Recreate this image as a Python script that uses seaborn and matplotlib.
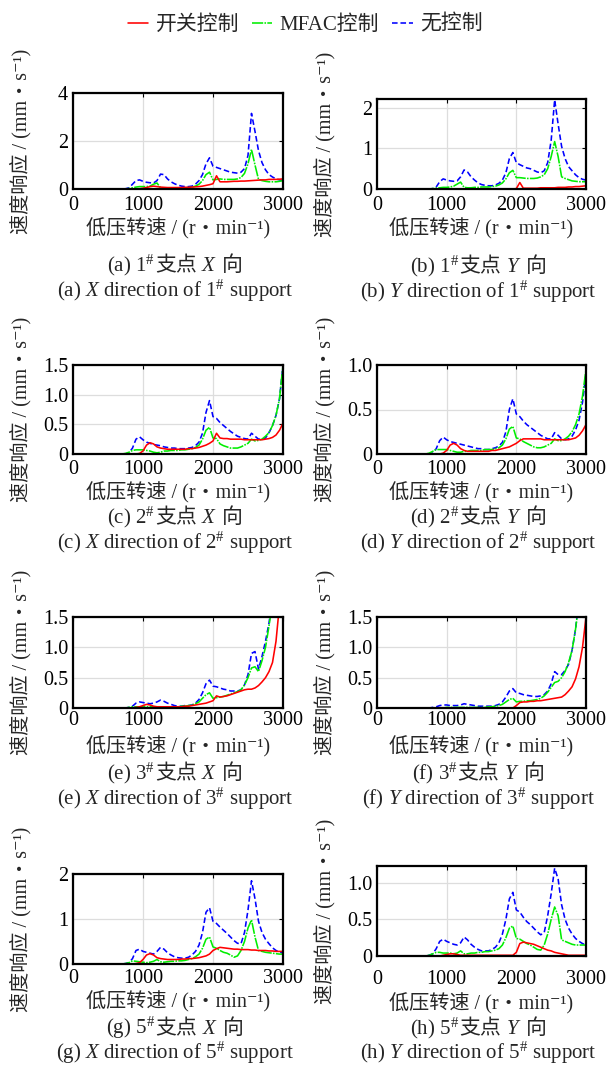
import matplotlib
matplotlib.use('Agg')
import matplotlib.pyplot as plt
from matplotlib.lines import Line2D
from matplotlib.offsetbox import TextArea, HPacker, AnnotationBbox
import seaborn as sns
import pandas as pd

# 低压转速 (r/min), 公共网格
rpm = [0, 700, 750, 800, 850, 900, 950,
       1000, 1050, 1100, 1150, 1200, 1250, 1300, 1350, 1400, 1450,
       1500, 1550, 1600, 1650, 1700, 1750, 1800, 1850, 1900, 1950,
       2000, 2050, 2100, 2150, 2200, 2250, 2300, 2350, 2400, 2450,
       2500, 2550, 2600, 2650, 2700, 2750, 2800, 2850, 2900, 2950,
       3000]

# (a) 1#支点 X 向
a_kaiguan = [0, 0, 0, 0, 0, 0, 0.01,
             0.03, 0.06, 0.1, 0.12, 0.1, 0.08, 0.07, 0.06, 0.06, 0.06,
             0.06, 0.06, 0.07, 0.07, 0.08, 0.09, 0.1, 0.12, 0.15, 0.18,
             0.22, 0.55, 0.3, 0.3, 0.3, 0.31, 0.32, 0.32, 0.33, 0.33,
             0.34, 0.35, 0.36, 0.37, 0.38, 0.38, 0.4, 0.4, 0.4, 0.41,
             0.42]
a_mfac = [0, 0, 0, 0.02, 0.05, 0.08, 0.1,
          0.1, 0.1, 0.12, 0.2, 0.25, 0.05, 0.03, 0.03, 0.04, 0.04,
          0.05, 0.05, 0.05, 0.06, 0.08, 0.12, 0.2, 0.35, 0.6, 0.7,
          0.38, 0.4, 0.42, 0.4, 0.4, 0.4, 0.4, 0.42, 0.48, 0.65,
          1.05, 1.65, 1.0, 0.4, 0.35, 0.32, 0.3, 0.3, 0.3, 0.32,
          0.35]
a_wu = [0, 0, 0.01, 0.05, 0.2, 0.35, 0.38,
        0.32, 0.28, 0.26, 0.25, 0.35, 0.62, 0.6, 0.42, 0.3, 0.22,
        0.16, 0.12, 0.1, 0.1, 0.12, 0.2, 0.35, 0.6, 1.05, 1.3,
        0.95, 0.9, 0.85, 0.8, 0.75, 0.7, 0.68, 0.66, 0.7, 0.85,
        1.4, 3.15, 2.4, 1.6, 1.1, 0.8, 0.6, 0.5, 0.42, 0.38,
        0.35]

# (b) 1#支点 Y 向
b_kaiguan = [0, 0, 0, 0, 0, 0, 0,
             0, 0, 0, 0, 0, 0, 0, 0, 0, 0,
             0, 0, 0, 0, 0, 0, 0, 0, 0, 0,
             0.01, 0.16, 0.02, 0.02, 0.02, 0.02, 0.02, 0.03, 0.03, 0.03,
             0.03, 0.03, 0.04, 0.04, 0.04, 0.05, 0.05, 0.06, 0.06, 0.07,
             0.08]
b_mfac = [0, 0, 0, 0.01, 0.02, 0.03, 0.04,
          0.04, 0.05, 0.07, 0.12, 0.17, 0.04, 0.03, 0.03, 0.04, 0.04,
          0.05, 0.05, 0.05, 0.06, 0.07, 0.1, 0.15, 0.25, 0.4, 0.46,
          0.28, 0.28, 0.27, 0.26, 0.26, 0.26, 0.27, 0.3, 0.35, 0.5,
          0.8, 1.17, 0.8, 0.3, 0.26, 0.23, 0.2, 0.19, 0.18, 0.18,
          0.18]
b_wu = [0, 0, 0, 0.01, 0.05, 0.18, 0.25,
        0.22, 0.2, 0.19, 0.2, 0.3, 0.47, 0.42, 0.3, 0.22, 0.15,
        0.11, 0.09, 0.08, 0.08, 0.1, 0.14, 0.22, 0.4, 0.75, 0.9,
        0.65, 0.6, 0.56, 0.52, 0.5, 0.46, 0.42, 0.4, 0.45, 0.65,
        1.2, 2.2, 1.6, 1.05, 0.75, 0.55, 0.45, 0.35, 0.28, 0.24,
        0.22]

# (c) 2#支点 X 向
c_kaiguan = [0, 0, 0, 0, 0, 0, 0.01,
             0.05, 0.15, 0.19, 0.17, 0.12, 0.1, 0.09, 0.08, 0.08, 0.08,
             0.08, 0.08, 0.08, 0.09, 0.09, 0.1, 0.11, 0.13, 0.15, 0.18,
             0.22, 0.35, 0.27, 0.26, 0.26, 0.25, 0.25, 0.25, 0.25, 0.24,
             0.24, 0.24, 0.24, 0.24, 0.24, 0.25, 0.26, 0.28, 0.32, 0.4,
             0.52]
c_mfac = [0, 0, 0.01, 0.03, 0.06, 0.07, 0.07,
          0.07, 0.06, 0.05, 0.03, 0.02, 0.03, 0.05, 0.05, 0.06, 0.06,
          0.06, 0.07, 0.07, 0.08, 0.09, 0.11, 0.15, 0.25, 0.4, 0.45,
          0.27, 0.26, 0.17, 0.14, 0.12, 0.1, 0.1, 0.1, 0.12, 0.15,
          0.18, 0.25, 0.22, 0.23, 0.25, 0.3, 0.36, 0.48, 0.65, 0.93,
          1.5]
c_wu = [0, 0, 0, 0.02, 0.1, 0.25, 0.29,
        0.24, 0.2, 0.18, 0.16, 0.15, 0.14, 0.12, 0.11, 0.1, 0.1,
        0.09, 0.09, 0.09, 0.1, 0.11, 0.14, 0.2, 0.35, 0.7, 0.9,
        0.63, 0.6, 0.53, 0.48, 0.43, 0.38, 0.34, 0.3, 0.28, 0.26,
        0.25, 0.35, 0.3, 0.25, 0.25, 0.27, 0.36, 0.48, 0.65, 0.93,
        1.5]

# (d) 2#支点 Y 向
d_kaiguan = [0, 0, 0, 0, 0, 0, 0.01,
             0.04, 0.1, 0.12, 0.1, 0.06, 0.04, 0.03, 0.03, 0.03, 0.03,
             0.03, 0.03, 0.03, 0.04, 0.04, 0.05, 0.06, 0.07, 0.08, 0.1,
             0.12, 0.15, 0.17, 0.17, 0.17, 0.17, 0.17, 0.17, 0.16, 0.16,
             0.16, 0.16, 0.16, 0.16, 0.16, 0.16, 0.17, 0.18, 0.21, 0.26,
             0.33]
d_mfac = [0, 0, 0.01, 0.03, 0.05, 0.05, 0.05,
          0.05, 0.04, 0.03, 0.02, 0.02, 0.03, 0.03, 0.04, 0.04, 0.04,
          0.04, 0.05, 0.05, 0.05, 0.06, 0.07, 0.1, 0.17, 0.28, 0.31,
          0.18, 0.17, 0.14, 0.12, 0.1, 0.08, 0.07, 0.07, 0.08, 0.1,
          0.12, 0.17, 0.15, 0.15, 0.17, 0.2, 0.25, 0.33, 0.45, 0.65,
          0.95]
d_wu = [0, 0, 0, 0.01, 0.06, 0.15, 0.19,
        0.16, 0.14, 0.13, 0.12, 0.11, 0.1, 0.09, 0.08, 0.07, 0.06,
        0.06, 0.05, 0.05, 0.06, 0.07, 0.09, 0.13, 0.25, 0.5, 0.62,
        0.45, 0.42, 0.37, 0.33, 0.3, 0.27, 0.24, 0.21, 0.19, 0.17,
        0.17, 0.24, 0.21, 0.17, 0.16, 0.17, 0.2, 0.27, 0.38, 0.58,
        0.9]

# (e) 3#支点 X 向
e_kaiguan = [0, 0, 0, 0, 0, 0.01, 0.02,
             0.04, 0.06, 0.05, 0.03, 0.02, 0.02, 0.02, 0.02, 0.02, 0.02,
             0.02, 0.02, 0.03, 0.03, 0.04, 0.05, 0.06, 0.07, 0.08, 0.1,
             0.12, 0.2, 0.18, 0.19, 0.2, 0.22, 0.24, 0.26, 0.28, 0.3,
             0.31, 0.31, 0.33, 0.37, 0.43, 0.5, 0.6, 0.75, 1.1, 1.7,
             2.5]
e_mfac = [0, 0, 0, 0.01, 0.02, 0.02, 0.02,
          0.02, 0.02, 0.02, 0.02, 0.02, 0.02, 0.02, 0.02, 0.02, 0.02,
          0.02, 0.03, 0.03, 0.04, 0.05, 0.07, 0.1, 0.16, 0.22, 0.25,
          0.16, 0.17, 0.18, 0.19, 0.21, 0.23, 0.25, 0.27, 0.3, 0.38,
          0.5, 0.66, 0.68, 0.6, 0.78, 1.0, 1.35, 1.75, 2.3, 3.0,
          4.0]
e_wu = [0, 0, 0, 0.01, 0.03, 0.08, 0.1,
        0.09, 0.08, 0.07, 0.08, 0.1, 0.13, 0.11, 0.08, 0.06, 0.04,
        0.03, 0.03, 0.04, 0.04, 0.05, 0.08, 0.14, 0.25, 0.4, 0.46,
        0.36, 0.35, 0.33, 0.31, 0.3, 0.28, 0.28, 0.28, 0.3, 0.38,
        0.55, 0.9, 0.93, 0.64, 0.85, 1.1, 1.4, 1.8, 2.4, 3.2,
        4.2]

# (f) 3#支点 Y 向
f_kaiguan = [0, 0, 0, 0, 0, 0, 0,
             0, 0, 0, 0, 0, 0, 0, 0, 0, 0,
             0, 0, 0, 0, 0, 0, 0, 0, 0, 0,
             0.04, 0.09, 0.1, 0.1, 0.11, 0.11, 0.12, 0.12, 0.13, 0.14,
             0.15, 0.16, 0.17, 0.18, 0.22, 0.28, 0.35, 0.48, 0.68, 1.0,
             1.5]
f_mfac = [0, 0, 0, 0, 0, 0, 0,
          0.01, 0.01, 0.01, 0.01, 0.01, 0.01, 0.01, 0.01, 0.01, 0.01,
          0.01, 0.01, 0.02, 0.02, 0.03, 0.04, 0.06, 0.1, 0.14, 0.16,
          0.1, 0.11, 0.11, 0.12, 0.12, 0.13, 0.14, 0.16, 0.2, 0.26,
          0.34, 0.42, 0.44, 0.5, 0.6, 0.75, 0.95, 1.3, 1.75, 2.4,
          3.2]
f_wu = [0, 0, 0, 0.01, 0.02, 0.04, 0.05,
        0.05, 0.04, 0.04, 0.04, 0.05, 0.07, 0.06, 0.05, 0.04, 0.03,
        0.03, 0.03, 0.03, 0.03, 0.04, 0.06, 0.1, 0.18, 0.28, 0.32,
        0.25, 0.24, 0.22, 0.21, 0.2, 0.19, 0.19, 0.2, 0.22, 0.28,
        0.4, 0.6, 0.55, 0.55, 0.62, 0.72, 0.95, 1.3, 1.8, 2.5,
        3.5]

# (g) 5#支点 X 向
g_kaiguan = [0, 0, 0, 0, 0, 0.01, 0.03,
             0.1, 0.2, 0.23, 0.2, 0.14, 0.12, 0.11, 0.1, 0.1, 0.1,
             0.1, 0.11, 0.11, 0.12, 0.12, 0.13, 0.14, 0.16, 0.18, 0.22,
             0.3, 0.34, 0.37, 0.36, 0.35, 0.34, 0.33, 0.33, 0.32, 0.32,
             0.32, 0.31, 0.31, 0.3, 0.3, 0.3, 0.29, 0.29, 0.28, 0.28,
             0.28]
g_mfac = [0, 0, 0.01, 0.03, 0.07, 0.06, 0.05,
          0.04, 0.03, 0.04, 0.06, 0.1, 0.05, 0.04, 0.05, 0.06, 0.06,
          0.07, 0.07, 0.08, 0.1, 0.12, 0.16, 0.22, 0.35, 0.55, 0.6,
          0.38, 0.35, 0.3, 0.26, 0.24, 0.2, 0.15, 0.18, 0.3, 0.5,
          0.8, 0.98, 0.6, 0.3, 0.28, 0.26, 0.25, 0.24, 0.23, 0.22,
          0.22]
g_wu = [0, 0, 0.01, 0.03, 0.12, 0.3, 0.33,
        0.28, 0.26, 0.24, 0.22, 0.28, 0.37, 0.33, 0.25, 0.2, 0.16,
        0.14, 0.13, 0.13, 0.15, 0.2, 0.28, 0.42, 0.7, 1.15, 1.25,
        0.95, 0.9, 0.82, 0.75, 0.68, 0.6, 0.52, 0.46, 0.45, 0.7,
        1.2, 1.85, 1.45, 0.95, 0.7, 0.55, 0.45, 0.36, 0.3, 0.27,
        0.24]

# (h) 5#支点 Y 向
h_kaiguan = [0, 0, 0, 0, 0, 0, 0.01,
             0.02, 0.03, 0.03, 0.02, 0.01, 0.01, 0.01, 0.01, 0.01, 0.01,
             0.01, 0.01, 0.01, 0.01, 0.01, 0.01, 0.01, 0.01, 0.01, 0.01,
             0.05, 0.17, 0.19, 0.18, 0.17, 0.16, 0.14, 0.12, 0.1, 0.08,
             0.07, 0.05, 0.04, 0.03, 0.02, 0.01, 0.01, 0.01, 0.01, 0.01,
             0.01]
h_mfac = [0, 0, 0.01, 0.03, 0.05, 0.05, 0.04,
          0.04, 0.04, 0.03, 0.04, 0.07, 0.03, 0.03, 0.04, 0.04, 0.05,
          0.05, 0.06, 0.06, 0.07, 0.08, 0.1, 0.15, 0.25, 0.38, 0.41,
          0.24, 0.23, 0.2, 0.17, 0.15, 0.12, 0.09, 0.08, 0.15, 0.3,
          0.5, 0.67, 0.55, 0.22, 0.2, 0.18, 0.16, 0.15, 0.15, 0.15,
          0.15]
h_wu = [0, 0, 0.01, 0.03, 0.1, 0.2, 0.23,
        0.2, 0.18, 0.16, 0.15, 0.18, 0.26, 0.22, 0.16, 0.12, 0.09,
        0.07, 0.07, 0.07, 0.09, 0.12, 0.18, 0.3, 0.5, 0.78, 0.87,
        0.63, 0.6, 0.53, 0.47, 0.43, 0.38, 0.33, 0.29, 0.32, 0.55,
        0.85, 1.2, 1.05, 0.7, 0.5, 0.38, 0.3, 0.24, 0.2, 0.17,
        0.15]

series_names = ['开关控制', 'MFAC控制', '无控制']
xlabel = '低压转速 / (r・min⁻¹)'
ylabel = '速度响应 / (mm・s⁻¹)'

# 字体
sns.set_style('white')
plt.rcParams['font.family'] = ['Liberation Serif', 'DejaVu Serif', 'Noto Sans CJK SC']
plt.rcParams['mathtext.fontset'] = 'custom'
plt.rcParams['mathtext.rm'] = 'Liberation Serif'
plt.rcParams['mathtext.it'] = 'Liberation Serif:italic'
plt.rcParams['axes.unicode_minus'] = False

colors = {'开关控制': '#ff0000', 'MFAC控制': '#00ee00', '无控制': '#0000ff'}
dashes = {'开关控制': '', 'MFAC控制': (7, 0.8, 1, 0.8), '无控制': (3.5, 1.8)}
order = ['无控制', 'MFAC控制', '开关控制']  # 画图顺序
LW = 1.15

W, H = 609, 1067
fig = plt.figure(figsize=(W / 100, H / 100), dpi=100)

# tag, 支点, 方向, 数据, y刻度, y上限, 轴框(左,上,右,下 像素), x刻度pad, xlabel y, 标题 y1, y2
panels = [
    ('a', '1', 'X', (a_kaiguan, a_mfac, a_wu), [0, 2, 4], ['0', '2', '4'], 4.0,
     (73, 93, 283, 189), 5, 229, 265, 291),
    ('b', '1', 'Y', (b_kaiguan, b_mfac, b_wu), [0, 1, 2], ['0', '1', '2'], 2.22,
     (377, 99, 586, 189), 5, 229, 266, 292),
    ('c', '2', 'X', (c_kaiguan, c_mfac, c_wu), [0, 0.5, 1.0, 1.5], ['0', '0.5', '1.0', '1.5'], 1.5,
     (73, 365, 283, 454), 4.5, 493, 517, 543),
    ('d', '2', 'Y', (d_kaiguan, d_mfac, d_wu), [0, 0.5, 1.0], ['0', '0.5', '1.0'], 1.0,
     (377, 365, 586, 454), 4.5, 493, 517, 543),
    ('e', '3', 'X', (e_kaiguan, e_mfac, e_wu), [0, 0.5, 1.0, 1.5], ['0', '0.5', '1.0', '1.5'], 1.5,
     (73, 617, 283, 708), 2, 747, 773, 799),
    ('f', '3', 'Y', (f_kaiguan, f_mfac, f_wu), [0, 0.5, 1.0, 1.5], ['0', '0.5', '1.0', '1.5'], 1.5,
     (377, 617, 586, 708), 2.5, 747, 773, 799),
    ('g', '5', 'X', (g_kaiguan, g_mfac, g_wu), [0, 1, 2], ['0', '1', '2'], 2.0,
     (73, 874, 283, 964), 3.5, 1002, 1028, 1053),
    ('h', '5', 'Y', (h_kaiguan, h_mfac, h_wu), [0, 0.5, 1.0], ['0', '0.5', '1.0'], 1.23,
     (377, 866, 586, 956), 10, 1004, 1028, 1053),
]

FS = 14.5

for tag, num, d, vals, yt, ytl, ytop, box, xpad, xl_y, c1_y, c2_y in panels:
    L, T, R, B = box
    ax = fig.add_axes([L / W, 1 - B / H, (R - L) / W, (B - T) / H])
    df = pd.DataFrame({
        'rpm': rpm * 3,
        'v': list(vals[0]) + list(vals[1]) + list(vals[2]),
        'ctrl': [n for n in series_names for _ in rpm],
    })
    sns.lineplot(data=df, x='rpm', y='v', hue='ctrl', style='ctrl',
                 hue_order=order, style_order=order, palette=colors, dashes=dashes,
                 estimator=None, sort=False, legend=False, linewidth=LW, ax=ax)
    ax.set_xlim(0, 3000)
    ax.set_ylim(0, ytop)
    ax.set_xticks([0, 1000, 2000, 3000])
    ax.set_xticklabels(['0', '1000', '2000', '3000'])
    ax.set_yticks(yt)
    ax.set_yticklabels(ytl)
    ax.set_xlabel('')
    ax.set_ylabel('')
    ax.grid(True, color='#dddddd', linewidth=0.9)
    ax.set_axisbelow(True)
    for s in ax.spines.values():
        s.set_color('black')
        s.set_linewidth(1.6)
    ax.tick_params(direction='in', length=3, width=0.8, top=True, right=True,
                   labelsize=FS, colors='black')
    ax.tick_params(axis='x', pad=xpad)
    ax.tick_params(axis='y', pad=3.5)

    cx = (L + R) / 2
    cy = (T + B) / 2
    # 坐标轴标题
    fig.text(cx / W, 1 - xl_y / H, xlabel, ha='center', va='center', fontsize=FS)
    ylx = 21 if L < 300 else 325
    fig.text(ylx / W, 1 - cy / H, ylabel, ha='center', va='center', rotation=90, fontsize=FS)

    # 中文子图标题
    t1 = TextArea(f'({tag}) {num}$^{{\\#}}$', textprops=dict(fontsize=15))
    t2 = TextArea('支点', textprops=dict(fontsize=15))
    t3 = TextArea(f'${d}$', textprops=dict(fontsize=15))
    t4 = TextArea('向', textprops=dict(fontsize=15))
    inner = HPacker(children=[t1, t2], sep=0, pad=0, align='baseline')
    packed = HPacker(children=[inner, t3, t4], sep=3.5, pad=0, align='baseline')
    ab = AnnotationBbox(packed, ((cx - 3) / W, 1 - c1_y / H), xycoords='figure fraction',
                        frameon=False, box_alignment=(0.5, 0.5), pad=0)
    fig.add_artist(ab)
    # 英文子图标题
    fig.text((cx - 3) / W, 1 - c2_y / H, f'({tag}) ${d}$ direction of {num}$^{{\\#}}$ support',
             ha='center', va='center', fontsize=15)

handles = [
    Line2D([], [], color=colors['开关控制'], linewidth=LW),
    Line2D([], [], color=colors['MFAC控制'], linewidth=LW, dashes=(7, 0.8, 1, 0.8)),
    Line2D([], [], color=colors['无控制'], linewidth=LW, dashes=(3.5, 1.8)),
]
fig.legend(handles, series_names, loc='center', bbox_to_anchor=(305 / W, 1 - 25 / H),
           ncol=3, frameon=False, fontsize=15, handlelength=1.0, handletextpad=0.35,
           columnspacing=0.6)

fig.savefig('out.png', dpi=100)
